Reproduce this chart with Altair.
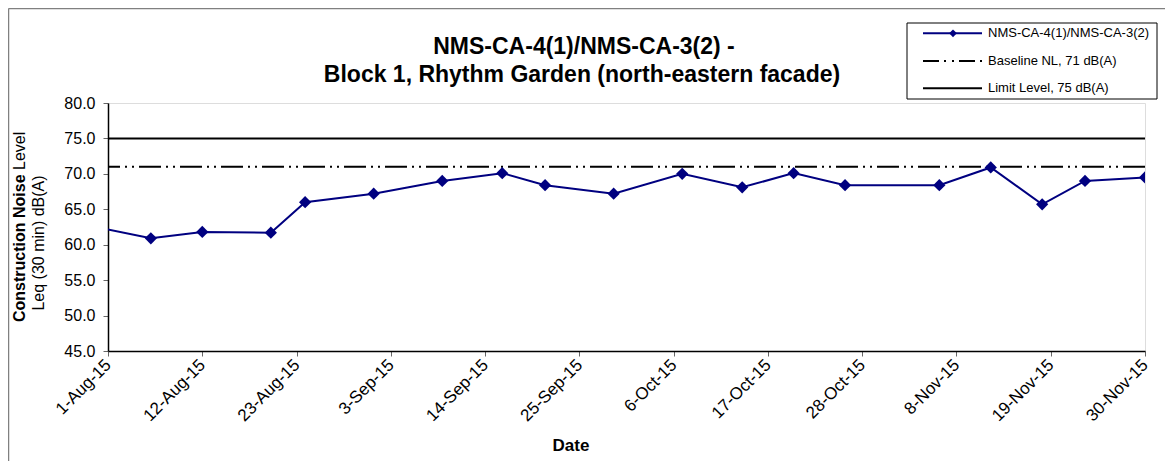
import altair as alt
import pandas as pd

# ---- data ----
dates = ["2015-07-31", "2015-08-06", "2015-08-12", "2015-08-20", "2015-08-24",
         "2015-09-01", "2015-09-09", "2015-09-16", "2015-09-21", "2015-09-29",
         "2015-10-07", "2015-10-14", "2015-10-20", "2015-10-26", "2015-11-06",
         "2015-11-12", "2015-11-18", "2015-11-23", "2015-11-30"]
levels = [62.4, 60.9, 61.8, 61.7, 66.0,
          67.2, 69.0, 70.1, 68.4, 67.2,
          70.0, 68.1, 70.1, 68.4, 68.4,
          70.9, 65.7, 69.0, 69.5]
series_name = "NMS-CA-4(1)/NMS-CA-3(2)"
baseline_label = "Baseline NL, 71 dB(A)"
limit_label = "Limit Level, 75 dB(A)"
baseline_value = 71
limit_value = 75
tick_dates = ["2015-08-01", "2015-08-12", "2015-08-23", "2015-09-03", "2015-09-14",
              "2015-09-25", "2015-10-06", "2015-10-17", "2015-10-28", "2015-11-08",
              "2015-11-19", "2015-11-30"]
y_ticks = [45, 50, 55, 60, 65, 70, 75, 80]
title_lines = ["NMS-CA-4(1)/NMS-CA-3(2)  -", "Block 1, Rhythm Garden (north-eastern facade)"]
x_title = "Date"
y_title_bold = "Construction Noise"
y_title_normal = "Level"
y_title_line2 = "Leq (30 min) dB(A)"

FONT = "Liberation Sans"
NAVY = "#000080"
W, H = 1037, 248

df = pd.DataFrame({"date": dates, "level": levels})
tick_ms = [int(pd.Timestamp(d, tz="UTC").value // 10**6) for d in tick_dates]
x_domain = [tick_ms[0], tick_ms[-1]]

xscale = alt.Scale(type="utc", domain=x_domain)
yscale = alt.Scale(domain=[y_ticks[0], y_ticks[-1]], nice=False, zero=False)

xaxis = alt.Axis(values=tick_ms, format="%-d-%b-%y", labelAngle=315, labelAlign="right",
                 labelBaseline="middle", labelPadding=6, labelFontSize=17, labelFont=FONT,
                 labelColor="black", tickSize=5, tickColor="#666666", domainColor="black",
                 domainWidth=1.5, grid=False, title=None, labelOverlap=False, labelFlush=False)
yaxis = alt.Axis(values=y_ticks, format=".1f", labelFontSize=16, labelFont=FONT,
                 labelColor="black", tickSize=5, tickColor="#666666", labelPadding=8,
                 domainColor="black", domainWidth=1.5, grid=False, title=None,
                 labelOverlap=False, labelFlush=False)

base = alt.Chart(df)
line = base.mark_line(color=NAVY, strokeWidth=2, clip=True).encode(
    x=alt.X("date:T", scale=xscale, axis=xaxis),
    y=alt.Y("level:Q", scale=yscale, axis=yaxis),
)
pts = base.mark_point(shape="diamond", filled=True, color=NAVY, size=150, opacity=1, clip=True).encode(
    x=alt.X("date:T", scale=xscale, axis=xaxis),
    y=alt.Y("level:Q", scale=yscale, axis=yaxis),
)
limit_rule = alt.Chart(pd.DataFrame({"v": [limit_value]})).mark_rule(color="black", strokeWidth=2).encode(
    y=alt.Y("v:Q", scale=yscale, axis=yaxis))
base_rule = alt.Chart(pd.DataFrame({"v": [baseline_value]})).mark_rule(
    color="black", strokeWidth=2, strokeDash=[22, 5, 2, 5, 2, 5]).encode(
    y=alt.Y("v:Q", scale=yscale, axis=yaxis))

one = pd.DataFrame({"a": [0]})

def txt(s, x, y, size, bold=False, angle=0, align="center"):
    kw = dict(text=s, font=FONT, fontSize=size, fontWeight="bold" if bold else "normal",
              color="black", align=align, baseline="middle")
    if angle:
        kw["angle"] = angle
    return alt.Chart(one).mark_text(**kw).encode(x=alt.value(x), y=alt.value(y))

layers = [limit_rule, base_rule, line, pts]

# outer frame (top & left)
layers.append(alt.Chart(one).mark_rule(color="#808080", strokeWidth=1.5).encode(
    x=alt.value(-99.5), y=alt.value(-94.5), y2=alt.value(H + 110)))
layers.append(alt.Chart(one).mark_rule(color="#808080", strokeWidth=1.5).encode(
    x=alt.value(-99.5), x2=alt.value(W + 20), y=alt.value(-94.5)))

# titles
layers.append(txt(title_lines[0], 476, -56, 23, bold=True))
layers.append(txt(title_lines[1], 474, -28, 23, bold=True))
layers.append(txt(x_title, 463, 343, 17, bold=True))
layers.append(txt(y_title_bold, -88, 219, 16, bold=True, angle=270, align="left"))
layers.append(txt(y_title_normal, -88, 67, 16, bold=False, angle=270, align="left"))
layers.append(txt(y_title_line2, -69, 140, 16, bold=False, angle=270, align="center"))

# legend
layers.append(alt.Chart(one).mark_rect(fill="white", stroke="black", strokeWidth=1).encode(
    x=alt.value(799), x2=alt.value(1049), y=alt.value(-80), y2=alt.value(-4)))
rows = [(series_name, -69.7, NAVY, None, True),
        (baseline_label, -42, "black", [16, 5, 2, 6, 2, 5], False),
        (limit_label, -14.7, "black", None, False)]
for label, yy, col, dash, marker in rows:
    kw = dict(color=col, strokeWidth=2)
    if dash:
        kw["strokeDash"] = dash
    layers.append(alt.Chart(one).mark_rule(**kw).encode(
        x=alt.value(815), x2=alt.value(874), y=alt.value(yy)))
    if marker:
        layers.append(alt.Chart(one).mark_point(shape="diamond", filled=True, color=col, size=60, opacity=1).encode(
            x=alt.value(845), y=alt.value(yy)))
    layers.append(txt(label, 880, yy, 13, align="left"))

chart = alt.layer(*layers).properties(
    width=W, height=H,
    autosize=alt.AutoSizeParams(type="none"),
    padding={"left": 100, "top": 95, "right": 20, "bottom": 110},
).configure_view(stroke=None).configure(background="white").configure_axis(labelOverlap=False)

chart.save("out.html", embed_options={"renderer": "svg", "actions": False})
